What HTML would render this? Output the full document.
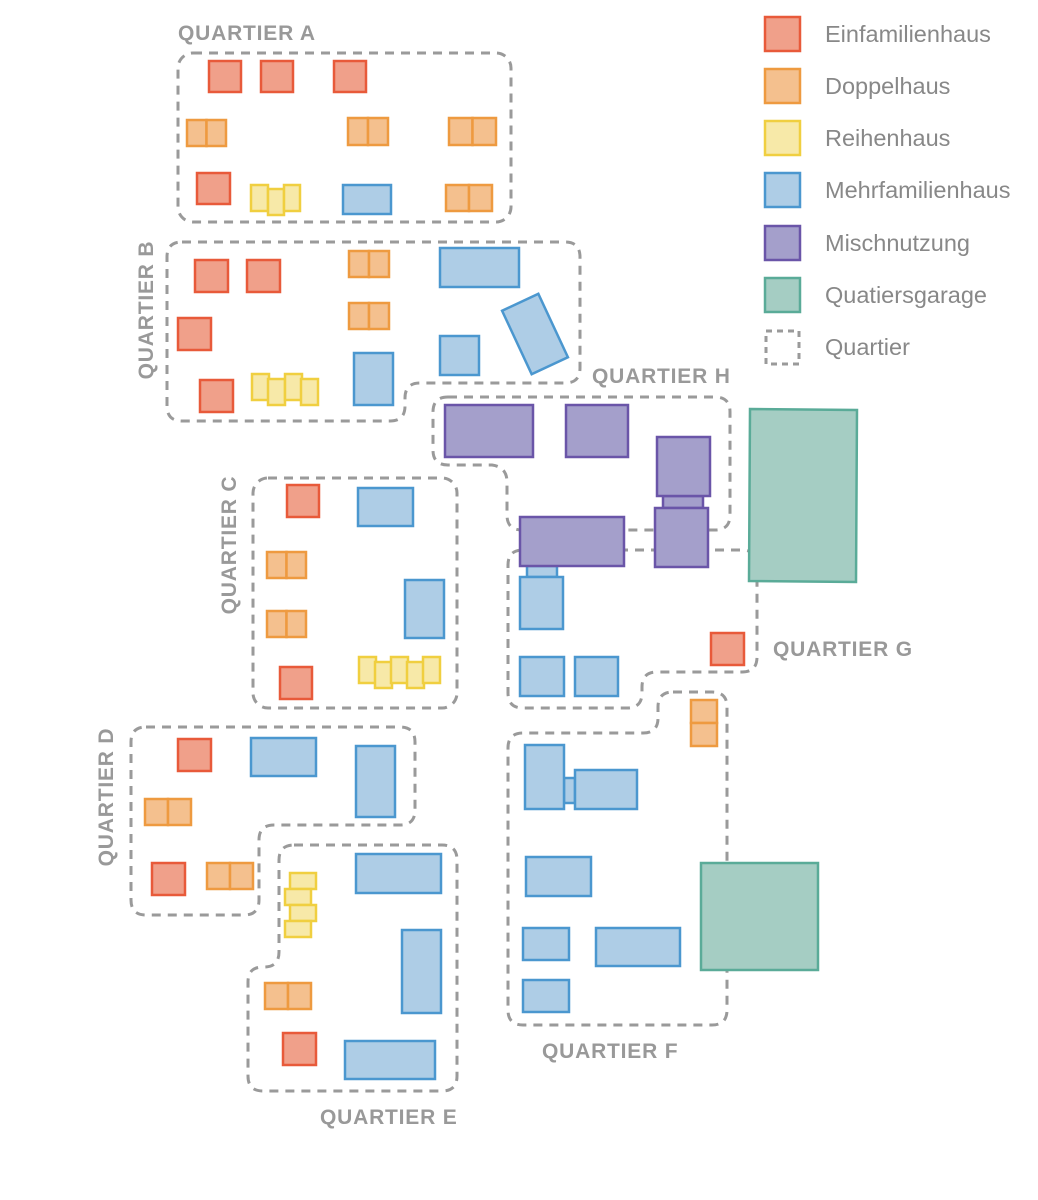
<!DOCTYPE html>
<html><head><meta charset="utf-8"><style>
html,body{margin:0;padding:0;background:#fff;}
svg{display:block}
.q{fill:none;stroke:#9a9a9a;stroke-width:3;stroke-dasharray:9 7;}
.r{fill:#f0a08a;stroke:#e85a3a;stroke-width:2.5}
.o{fill:#f4c08e;stroke:#ee9a40;stroke-width:2.5}
.y{fill:#f7e9a8;stroke:#f0cf40;stroke-width:2.5}
.b{fill:#aecde6;stroke:#4b97cf;stroke-width:2.5}
.p{fill:#a49fcb;stroke:#6a55a8;stroke-width:2.5}
.g{fill:#a5cdc3;stroke:#5aab98;stroke-width:2.5}
.l{font-family:"Liberation Sans",sans-serif;font-weight:bold;font-size:21px;fill:#999;letter-spacing:0.8px}
.t{font-family:"Liberation Sans",sans-serif;font-size:23.5px;fill:#888}
</style></head><body>
<svg width="1038" height="1200" viewBox="0 0 1038 1200">
<rect class="q" x="178" y="53" width="333" height="169" rx="15"/>
<path class="q" d="M182,242 H565 Q580,242 580,257 V368 Q580,383 565,383 H420 Q405,383 405,398 V406 Q405,421 390,421 H182 Q167,421 167,406 V257 Q167,242 182,242 Z"/>
<path class="q" d="M448,397 H715 Q730,397 730,412 V515 Q730,530 715,530 H522 Q507,530 507,515 V482 Q507,467 492,465 H448 Q433,465 433,450 V412 Q433,397 448,397 Z"/>
<path class="q" d="M523,550 H742 Q757,550 757,565 V657 Q757,672 742,672 H657 Q642,672 642,687 V693 Q642,708 627,708 H523 Q508,708 508,693 V565 Q508,550 523,550Z"/>
<path class="q" d="M673,692 H712 Q727,692 727,707 V1010 Q727,1025 712,1025 H523 Q508,1025 508,1010 V748 Q508,733 523,733 H643 Q658,733 658,718 V707 Q658,692 673,692Z"/>
<rect class="q" x="253" y="478" width="204" height="230" rx="15"/>
<path class="q" d="M146,727 H400 Q415,727 415,742 V810 Q415,825 400,825 H274 Q259,825 259,840 V900 Q259,915 244,915 H146 Q131,915 131,900 V742 Q131,727 146,727Z"/>
<path class="q" d="M294,845 H442 Q457,845 457,860 V1076 Q457,1091 442,1091 H263 Q248,1091 248,1076 V982 Q248,967 263,967 H264 Q279,967 279,952 V860 Q279,845 294,845Z"/>
<rect class="r" x="209" y="61" width="32" height="31"/><rect class="r" x="261" y="61" width="32" height="31"/><rect class="r" x="334" y="61" width="32" height="31"/>
<rect class="o" x="187" y="120" width="19.5" height="26"/><rect class="o" x="206.5" y="120" width="19.5" height="26"/>
<rect class="o" x="348" y="118" width="20" height="27"/><rect class="o" x="368" y="118" width="20" height="27"/>
<rect class="o" x="449" y="118" width="23.5" height="27"/><rect class="o" x="472.5" y="118" width="23.5" height="27"/>
<rect class="r" x="197" y="173" width="33" height="31"/>
<rect class="y" x="251" y="185" width="17" height="26"/><rect class="y" x="268" y="189" width="16" height="26"/><rect class="y" x="284" y="185" width="16" height="26"/>
<rect class="b" x="343" y="185" width="48" height="29"/>
<rect class="o" x="446" y="185" width="23" height="26"/><rect class="o" x="469" y="185" width="23" height="26"/>
<rect class="r" x="195" y="260" width="33" height="32"/><rect class="r" x="247" y="260" width="33" height="32"/>
<rect class="r" x="178" y="318" width="33" height="32"/><rect class="r" x="200" y="380" width="33" height="32"/>
<rect class="o" x="349" y="251" width="20" height="26"/><rect class="o" x="369" y="251" width="20" height="26"/>
<rect class="o" x="349" y="303" width="20" height="26"/><rect class="o" x="369" y="303" width="20" height="26"/>
<rect class="y" x="252" y="374" width="17" height="26"/><rect class="y" x="268" y="379" width="17" height="26"/><rect class="y" x="285" y="374" width="17" height="26"/><rect class="y" x="301" y="379" width="17" height="26"/>
<rect class="b" x="354" y="353" width="39" height="52"/>
<rect class="b" x="440" y="248" width="79" height="39"/>
<rect class="b" x="440" y="336" width="39" height="39"/>
<rect class="b" x="-20" y="-35" width="40" height="70" transform="translate(535,334) rotate(-25)"/>
<rect class="p" x="445" y="405" width="88" height="52"/><rect class="p" x="566" y="405" width="62" height="52"/>
<rect class="p" x="663" y="496" width="40" height="12"/>
<rect class="p" x="657" y="437" width="53" height="59"/><rect class="p" x="655" y="508" width="53" height="59"/>
<rect class="b" x="527" y="566" width="30" height="11"/>
<rect class="p" x="520" y="517" width="104" height="49"/>
<rect class="b" x="520" y="577" width="43" height="52"/>
<rect class="b" x="520" y="657" width="44" height="39"/><rect class="b" x="575" y="657" width="43" height="39"/>
<rect class="r" x="711" y="633" width="33" height="32"/>
<path class="g" d="M750,409 L857,410 L856,582 L749,581 Z"/>
<rect class="o" x="691" y="700" width="26" height="23"/><rect class="o" x="691" y="723" width="26" height="23"/>
<rect class="b" x="564" y="778" width="11" height="25"/>
<rect class="b" x="525" y="745" width="39" height="64"/><rect class="b" x="575" y="770" width="62" height="39"/>
<rect class="b" x="526" y="857" width="65" height="39"/>
<rect class="b" x="523" y="928" width="46" height="32"/><rect class="b" x="596" y="928" width="84" height="38"/>
<rect class="b" x="523" y="980" width="46" height="32"/>
<rect class="g" x="701" y="863" width="117" height="107"/>
<rect class="r" x="287" y="485" width="32" height="32"/><rect class="b" x="358" y="488" width="55" height="38"/>
<rect class="o" x="267" y="552" width="19.5" height="26"/><rect class="o" x="286.5" y="552" width="19.5" height="26"/>
<rect class="o" x="267" y="611" width="19.5" height="26"/><rect class="o" x="286.5" y="611" width="19.5" height="26"/>
<rect class="b" x="405" y="580" width="39" height="58"/><rect class="r" x="280" y="667" width="32" height="32"/>
<rect class="y" x="359" y="657" width="17" height="26"/><rect class="y" x="375" y="662" width="17" height="26"/><rect class="y" x="391" y="657" width="17" height="26"/><rect class="y" x="407" y="662" width="17" height="26"/><rect class="y" x="423" y="657" width="17" height="26"/>
<rect class="r" x="178" y="739" width="33" height="32"/><rect class="b" x="251" y="738" width="65" height="38"/>
<rect class="b" x="356" y="746" width="39" height="71"/>
<rect class="o" x="145" y="799" width="23" height="26"/><rect class="o" x="168" y="799" width="23" height="26"/>
<rect class="r" x="152" y="863" width="33" height="32"/>
<rect class="o" x="207" y="863" width="23" height="26"/><rect class="o" x="230" y="863" width="23" height="26"/>
<rect class="b" x="356" y="854" width="85" height="39"/>
<rect class="y" x="290" y="873" width="26" height="16"/><rect class="y" x="285" y="889" width="26" height="16"/><rect class="y" x="290" y="905" width="26" height="16"/><rect class="y" x="285" y="921" width="26" height="16"/>
<rect class="b" x="402" y="930" width="39" height="83"/>
<rect class="o" x="265" y="983" width="23" height="26"/><rect class="o" x="288" y="983" width="23" height="26"/>
<rect class="r" x="283" y="1033" width="33" height="32"/><rect class="b" x="345" y="1041" width="90" height="38"/>
<text class="l" x="178" y="40">QUARTIER A</text>
<text class="l" x="592" y="383">QUARTIER H</text>
<text class="l" x="773" y="656">QUARTIER G</text>
<text class="l" x="542" y="1058">QUARTIER F</text>
<text class="l" x="320" y="1124">QUARTIER E</text>
<text class="l" transform="translate(153,310) rotate(-90)" text-anchor="middle">QUARTIER B</text>
<text class="l" transform="translate(236,545) rotate(-90)" text-anchor="middle">QUARTIER C</text>
<text class="l" transform="translate(113,797) rotate(-90)" text-anchor="middle">QUARTIER D</text>
<rect class="r" x="765" y="17" width="35" height="34"/><text class="t" x="825" y="42">Einfamilienhaus</text>
<rect class="o" x="765" y="69" width="35" height="34"/><text class="t" x="825" y="94">Doppelhaus</text>
<rect class="y" x="765" y="121" width="35" height="34"/><text class="t" x="825" y="146">Reihenhaus</text>
<rect class="b" x="765" y="173" width="35" height="34"/><text class="t" x="825" y="198">Mehrfamilienhaus</text>
<rect class="p" x="765" y="226" width="35" height="34"/><text class="t" x="825" y="251">Mischnutzung</text>
<rect class="g" x="765" y="278" width="35" height="34"/><text class="t" x="825" y="303">Quatiersgarage</text>
<rect class="q" x="766" y="331" width="33" height="33" style="stroke-dasharray:6 5"/><text class="t" x="825" y="355">Quartier</text>
</svg>
</body></html>
